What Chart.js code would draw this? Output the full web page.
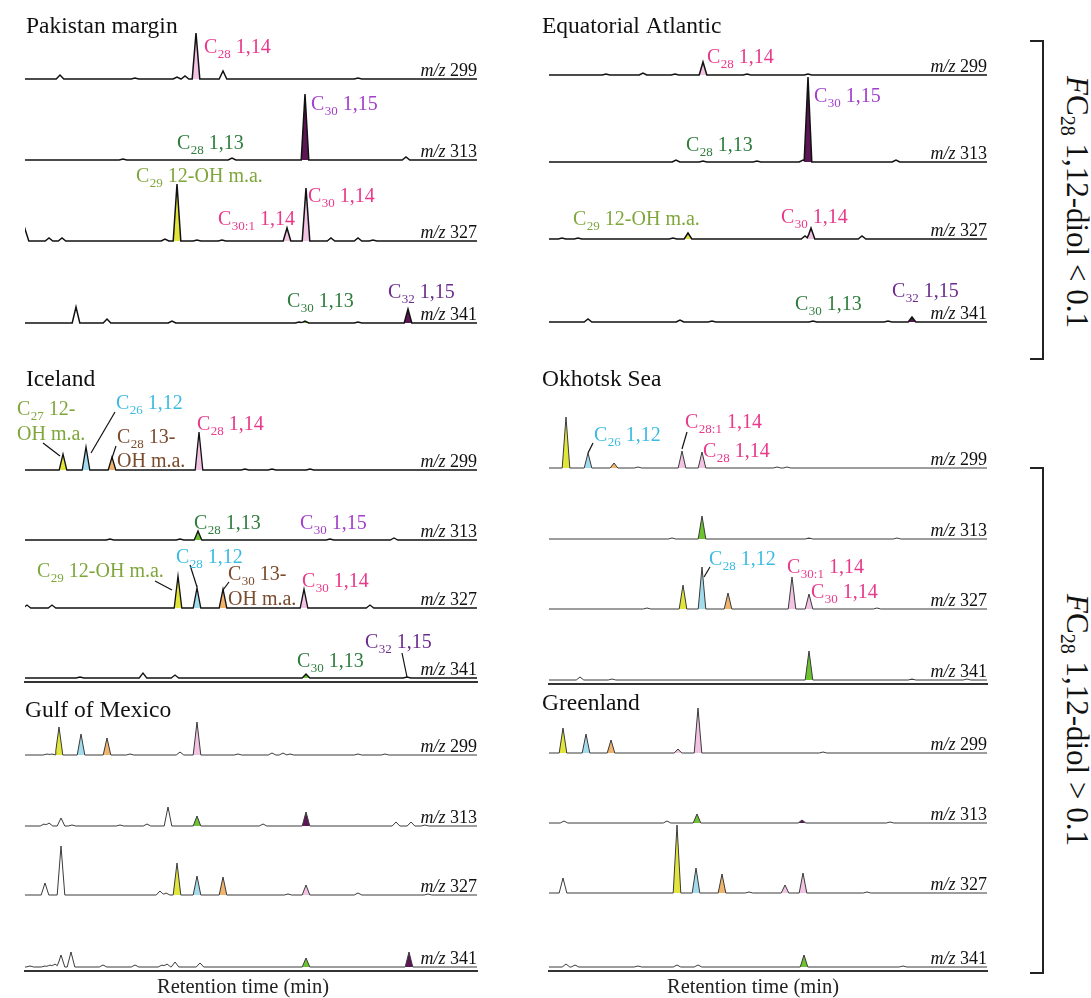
<!DOCTYPE html>
<html>
<head>
<meta charset="utf-8">
<script src="https://cdn.jsdelivr.net/npm/chart.js@4.4.1/dist/chart.umd.min.js"></script>
<style>
  html, body { margin: 0; padding: 0; background: #fff; }
  #fig { position: relative; width: 1091px; height: 998px; overflow: hidden;
         font-family: 'Liberation Serif', 'Times New Roman', serif; color: #111; }
  #fig canvas { position: absolute; }
  .brk { position: absolute; border: 2px solid #222; border-left: none; width: 12px; box-sizing: content-box; }
  .side { position: absolute; font-size: 31px; white-space: nowrap; line-height: 1;
          transform: translate(-50%, -50%) rotate(90deg); }
  .side sub { font-size: 20px; vertical-align: -6px; line-height: 0; }
</style>
</head>
<body>
<div id="fig">
  <div class="brk" style="left:1030px;top:40px;height:316px"></div>
  <div class="brk" style="left:1030px;top:467px;height:503px"></div>
  <div class="side" style="left:1077px;top:202px"><i>F</i>C<sub>28</sub> 1,12-diol &lt; 0.1</div>
  <div class="side" style="left:1077px;top:720px"><i>F</i>C<sub>28</sub> 1,12-diol &gt; 0.1</div>
</div>
<script>
// Ion traces, listed top to bottom in every panel
const ions = [299, 313, 327, 341];

// Peaks per trace: [retention time (min), intensity, highlighted compound]
const pak299 = [[3.5,4],[11.0,1],[15.2,2],[16.0,3],[17.1,46,'pnk'],[19.8,8],[33.3,1]];
const pak313 = [[9.8,1],[20.7,2],[28.0,66,'pur'],[38.1,3]];
const pak327 = [[0.0,12],[2.4,3],[3.7,3],[14.0,2],[15.2,57,'yel'],[17.2,1],[19.7,1],[26.2,13,'pnk'],[28.1,53,'pnk'],[30.6,3],[33.3,3],[34.8,1]];
const pak341 = [[5.1,16],[8.2,4],[14.7,2],[27.4,1],[28.0,2,'grn'],[33.3,1],[38.3,14,'pur']];

const eqa299 = [[5.7,1],[9.4,2],[12.6,1],[15.4,13,'pnk'],[19.8,1],[25.9,1]];
const eqa313 = [[12.7,2],[15.4,1,'grn'],[20.8,1],[25.4,2],[25.9,85,'pur'],[34.7,2]];
const eqa327 = [[1.3,1],[2.9,1],[12.4,1],[13.9,6,'yel'],[25.6,3],[26.2,11,'pnk'],[31.3,3]];
const eqa341 = [[3.9,3],[13.1,2],[16.3,1],[26.4,1,'grn'],[33.9,1],[36.3,5,'pur']];

const ice299 = [[3.8,16,'yel'],[6.1,23,'cya'],[8.7,13,'ora'],[17.4,38,'pnk'],[22.0,1],[24.7,1],[28.5,1]];
const ice313 = [[8.5,1],[15.5,1],[17.3,9,'grn'],[30.5,1],[36.9,2]];
const ice327 = [[0.2,3],[2.7,3],[15.3,32,'yel'],[17.2,20,'cya'],[19.8,19,'ora'],[27.9,19,'pnk'],[34.5,3]];
const ice341 = [[5.5,1],[11.8,5],[15.0,3],[28.1,4,'grn'],[38.2,1,'pur']];

const okh299 = [[1.7,51,'yel'],[3.9,15,'cya'],[6.5,5,'ora'],[8.9,1],[13.3,17,'pnk'],[15.3,16,'pnk'],[22.8,1],[23.8,1]];
const okh313 = [[12.3,1],[15.3,23,'grn'],[26.0,1,'pur'],[34.8,1]];
const okh327 = [[9.8,1],[13.4,24,'yel'],[15.3,42,'cya'],[17.9,16,'ora'],[24.3,32,'pnk'],[26.0,15,'pnk'],[32.8,1]];
const okh341 = [[3.1,3],[6.3,1],[26.0,29,'grn'],[36.3,1,'pur'],[41.8,1]];

const gom299 = [[2.2,1],[2.7,1],[3.4,28,'yel'],[5.6,21,'cya'],[8.2,17,'ora'],[10.5,1],[15.5,3],[17.2,33,'pnk'],[21.3,1],[24.7,2],[25.8,2],[26.5,1],[33.3,1],[36.0,1]];
const gom313 = [[1.9,2],[2.4,3],[3.6,8],[4.7,1],[9.5,1],[12.2,2],[14.3,19],[17.2,10,'grn'],[23.8,2],[28.1,14,'pur'],[37.1,4],[38.6,4],[40.0,1]];
const gom327 = [[2.0,12],[3.6,49],[13.5,4],[14.1,2],[15.2,32,'yel'],[17.2,19,'cya'],[19.8,18,'ora'],[26.3,1],[28.1,10,'pnk'],[33.3,2],[40.3,1]];
const gom341 = [[0.5,1],[2.0,1],[2.5,2],[3.0,3],[3.6,12],[4.6,15],[7.8,2],[11.0,2],[13.7,2],[14.2,3],[15.0,5],[17.5,4],[28.1,9,'grn'],[38.4,15,'pur']];

const grl299 = [[1.4,25,'yel'],[3.7,19,'cya'],[6.2,13,'ora'],[12.9,4,'pnk'],[14.9,45,'pnk'],[27.4,1]];
const grl313 = [[1.5,2],[11.8,2],[14.8,9,'grn'],[25.3,3,'pur'],[34.1,1]];
const grl327 = [[1.4,15],[12.8,68,'yel'],[14.7,25,'cya'],[17.3,19,'ora'],[20.0,1],[23.6,8,'pnk'],[25.4,20,'pnk'],[31.8,1]];
const grl341 = [[1.7,3],[2.6,2],[8.9,1],[12.8,2],[14.9,2],[25.5,12,'grn'],[35.4,1]];

// Compound labels: [trace, rt, height above trace, symbol, subscript, suffix, colour]
const pakNotes = [
  [0,17.9,26,'C','28',' 1,14','pink'],
  [1,28.6,50,'C','30',' 1,15','violet'],
  [1,15.2,11,'C','28',' 1,13','green'],
  [2,11.1,59,'C','29',' 12-OH m.a.','olive'],
  [2,19.3,16,'C','30:1',' 1,14','pink'],
  [2,28.3,39,'C','30',' 1,14','pink'],
  [3,26.2,16,'C','30',' 1,13','green'],
  [3,36.3,25,'C','32',' 1,15','plum']
];
const eqaNotes = [
  [0,15.8,12,'C','28',' 1,14','pink'],
  [1,26.5,60,'C','30',' 1,15','violet'],
  [1,13.7,11,'C','28',' 1,13','green'],
  [2,2.4,14,'C','29',' 12-OH m.a.','olive'],
  [2,23.2,16,'C','30',' 1,14','pink'],
  [3,24.6,12,'C','30',' 1,13','green'],
  [3,34.3,25,'C','32',' 1,15','plum']
];
const iceNotes = [
  [0,-0.8,55,'C','27',' 12-','olive'],
  [0,-0.8,30,'OH m.a.','','','olive'],
  [0,9.1,61,'C','26',' 1,12','cyan'],
  [0,9.2,27,'C','28',' 13-','brown'],
  [0,9.2,3,'OH m.a.','','','brown'],
  [0,17.2,40,'C','28',' 1,14','pink'],
  [1,16.9,11,'C','28',' 1,13','green'],
  [1,27.5,11,'C','30',' 1,15','violet'],
  [2,1.2,31,'C','29',' 12-OH m.a.','olive'],
  [2,15.1,45,'C','28',' 1,12','cyan'],
  [2,20.3,28,'C','30',' 13-','brown'],
  [2,20.3,3,'OH m.a.','','','brown'],
  [2,27.7,21,'C','30',' 1,14','pink'],
  [3,27.2,11,'C','30',' 1,13','green'],
  [3,34.0,30,'C','32',' 1,15','plum']
];
const okhNotes = [
  [0,4.5,27,'C','26',' 1,12','cyan'],
  [0,13.6,40,'C','28:1',' 1,14','pink'],
  [0,15.4,11,'C','28',' 1,14','pink'],
  [2,16.0,44,'C','28',' 1,12','cyan'],
  [2,23.8,36,'C','30:1',' 1,14','pink'],
  [2,26.2,11,'C','30',' 1,14','pink']
];

// Leader lines from a label to its peak: [trace, rt1, h1, rt2, h2]
const iceLeaders = [
  [0,1.8,27,3.5,14],[0,9.0,58,6.6,17],[0,9.1,24,8.7,12],
  [2,13.0,27,14.7,18],[2,16.5,43,17.2,21],[2,20.4,26,19.8,18],
  [3,37.7,25,38.2,1]
];
const okhLeaders = [[0,4.4,25,3.9,15],[0,13.8,36,13.3,19],[2,16.1,42,15.5,32]];

// Styling
const SERIF = "'Liberation Serif', 'Times New Roman', serif";
const peakFill = { yel:'#e2e63a', cya:'#a3dcec', ora:'#f1b46c', pnk:'#f2c3e3', grn:'#6cc332', pur:'#5c1656' };
const inkColor = { pink:'#e8398b', violet:'#a23fcb', plum:'#6b2c8e', green:'#2e7c3c', olive:'#7fa63b', cyan:'#3bbbe2', brown:'#7a4a2c' };
const HALF_WIDTH = 0.38; // peak half-width at the baseline, minutes

const panels = [
  { name:'Pakistan margin', left:0, top:0, w:500, h:345, padL:25, padR:23, axisH:0, rt:45.2,
    bases:[79,160,241,323], titleX:26, titleY:33, traces:[pak299,pak313,pak327,pak341],
    notes:pakNotes, leaders:[], line:'#111', lw:1.5 },
  { name:'Equatorial Atlantic', left:520, top:0, w:480, h:345, padL:29, padR:13, axisH:0, rt:43.8,
    bases:[75,162,239,322], titleX:22, titleY:33, traces:[eqa299,eqa313,eqa327,eqa341],
    notes:eqaNotes, leaders:[], line:'#111', lw:1.5 },
  { name:'Iceland', left:0, top:345, w:500, h:340, padL:25, padR:23, axisH:3, rt:45.2,
    bases:[470,540,608,678], titleX:26, titleY:41, traces:[ice299,ice313,ice327,ice341],
    notes:iceNotes, leaders:iceLeaders, line:'#111', lw:1.3 },
  { name:'Okhotsk Sea', left:520, top:345, w:480, h:342, padL:29, padR:13, axisH:3, rt:43.8,
    bases:[468,539,609,680], titleX:22, titleY:41, traces:[okh299,okh313,okh327,okh341],
    notes:okhNotes, leaders:okhLeaders, line:'#3a3a3a', lw:1.0 },
  { name:'Gulf of Mexico', left:0, top:690, w:500, h:308, padL:25, padR:23, axisH:27, rt:45.2,
    bases:[755,826,895,967], titleX:25, titleY:27, traces:[gom299,gom313,gom327,gom341],
    notes:[], leaders:[], line:'#3a3a3a', lw:1.0, xTitle:'Retention time (min)', xTitleX:243 },
  { name:'Greenland', left:520, top:690, w:480, h:308, padL:29, padR:13, axisH:27, rt:43.8,
    bases:[753,823,893,967], titleX:22, titleY:20, traces:[grl299,grl313,grl327,grl341],
    notes:[], leaders:[], line:'#3a3a3a', lw:1.0, xTitle:'Retention time (min)', xTitleX:233 }
];

// Chromatogram outline: baseline plus a triangular profile for each peak
function traceLine(peaks, base, rtMax) {
  const xs = new Set([0, rtMax]);
  peaks.forEach(([rt]) => { xs.add(rt - HALF_WIDTH); xs.add(rt); xs.add(rt + HALF_WIDTH); });
  return [...xs].sort((a, b) => a - b).map(x => {
    let v = 0;
    peaks.forEach(([rt, h]) => { v = Math.max(v, h * Math.max(0, 1 - Math.abs(x - rt) / HALF_WIDTH)); });
    return { x, y: base + v };
  });
}

function drawChem(ctx, x, y, n) {
  const [, , , sym, sub, rest, col] = n;
  ctx.fillStyle = inkColor[col];
  ctx.textAlign = 'left';
  ctx.font = `20px ${SERIF}`;
  ctx.fillText(sym, x, y);
  let cx = x + ctx.measureText(sym).width;
  if (sub) {
    ctx.font = `13px ${SERIF}`;
    ctx.fillText(sub, cx + 0.5, y + 5);
    cx += ctx.measureText(sub).width + 0.5;
  }
  if (rest) {
    ctx.font = `20px ${SERIF}`;
    ctx.fillText(rest, cx, y);
  }
}

const annotate = {
  id: 'annotate',
  afterDatasetsDraw(chart, args, opts) {
    const p = opts.panel;
    const { ctx, chartArea: a, scales: { x, y } } = chart;
    ctx.save();
    ctx.textBaseline = 'alphabetic';
    // panel title
    ctx.fillStyle = '#111';
    ctx.textAlign = 'left';
    ctx.font = `23.5px ${SERIF}`;
    ctx.fillText(p.name, p.titleX, p.titleY);
    // ion labels at the right end of each trace
    p.off.forEach((off, i) => {
      const yy = y.getPixelForValue(off) - 3;
      const num = ' ' + ions[i];
      ctx.fillStyle = '#111';
      ctx.textAlign = 'right';
      ctx.font = `18px ${SERIF}`;
      ctx.fillText(num, a.right, yy);
      const w = ctx.measureText(num).width;
      ctx.font = `italic 18px ${SERIF}`;
      ctx.fillText('m/z', a.right - w, yy);
    });
    // leader lines
    ctx.strokeStyle = '#111';
    ctx.lineWidth = 1.2;
    p.leaders.forEach(([t, r1, h1, r2, h2]) => {
      ctx.beginPath();
      ctx.moveTo(x.getPixelForValue(r1), y.getPixelForValue(p.off[t] + h1));
      ctx.lineTo(x.getPixelForValue(r2), y.getPixelForValue(p.off[t] + h2));
      ctx.stroke();
    });
    // compound labels
    p.notes.forEach(n => {
      drawChem(ctx, x.getPixelForValue(n[1]), y.getPixelForValue(p.off[n[0]] + n[2]), n);
    });
    // axis title
    if (p.xTitle) {
      ctx.fillStyle = '#222';
      ctx.textAlign = 'center';
      ctx.font = `20.5px ${SERIF}`;
      ctx.fillText(p.xTitle, p.xTitleX, p.h - 5);
    }
    ctx.restore();
  }
};

const fig = document.getElementById('fig');
panels.forEach(p => {
  const plotH = p.h - p.axisH;
  const bottomPage = p.top + plotH;
  p.off = p.bases.map(b => bottomPage - b);

  const datasets = [];
  p.traces.forEach((peaks, i) => {
    datasets.push({
      data: traceLine(peaks, p.off[i], p.rt),
      borderColor: p.line, borderWidth: p.lw, pointRadius: 0, fill: false, tension: 0, order: 0
    });
    peaks.filter(pk => pk[2]).forEach(([rt, h, key]) => {
      datasets.push({
        data: [{ x: rt - HALF_WIDTH, y: p.off[i] }, { x: rt, y: p.off[i] + h }, { x: rt + HALF_WIDTH, y: p.off[i] }],
        borderWidth: 0, pointRadius: 0, tension: 0,
        backgroundColor: peakFill[key], fill: { value: p.off[i] }, order: 1
      });
    });
  });

  const cv = document.createElement('canvas');
  cv.width = p.w; cv.height = p.h;
  cv.style.left = p.left + 'px'; cv.style.top = p.top + 'px';
  cv.style.width = p.w + 'px'; cv.style.height = p.h + 'px';
  fig.appendChild(cv);

  new Chart(cv, {
    type: 'line',
    data: { datasets },
    options: {
      responsive: false, animation: false, events: [],
      devicePixelRatio: 1,
      layout: { padding: { left: p.padL, right: p.padR, top: 0, bottom: 0 } },
      plugins: { legend: { display: false }, tooltip: { enabled: false }, annotate: { panel: p } },
      scales: {
        x: {
          type: 'linear', min: 0, max: p.rt,
          display: p.axisH > 0,
          grid: { display: false },
          ticks: { display: false },
          border: { display: true, color: '#333', width: 2 },
          afterFit: s => { s.height = p.axisH; }
        },
        y: { type: 'linear', min: 0, max: plotH, display: false }
      }
    },
    plugins: [annotate]
  });
});
</script>
</body>
</html>
